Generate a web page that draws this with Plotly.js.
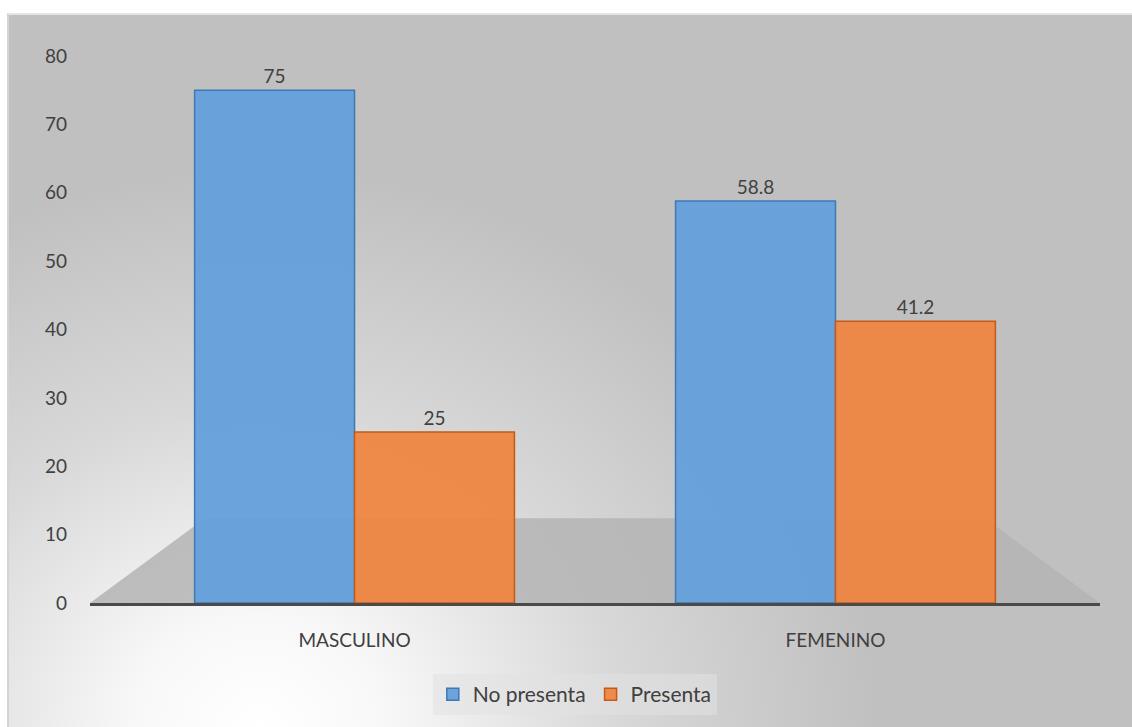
<!DOCTYPE html>
<html>
<head>
<meta charset="utf-8">
<script src="https://cdn.plot.ly/plotly-3.0.1.min.js"></script>
<style>
  html, body { margin: 0; padding: 0; background: #ffffff; width: 1132px; height: 727px; overflow: hidden; }
  #bg {
    position: absolute; left: 7px; top: 13px; width: 1125px; height: 714px;
    border-left: 2px solid #d4d4d4; border-top: 2px solid #e4e4e4; box-sizing: border-box;
    background: radial-gradient(ellipse 620px 560px at 250px 714px, #ffffff 0%, #f8f8f8 20%, #d8d8d8 58%, #c0c0c0 100%);
  }
  #chart { position: absolute; left: 0; top: 0; width: 1132px; height: 727px; }
</style>
</head>
<body>
<div id="bg"></div>
<div id="chart"></div>
<script>
const categories = ["MASCULINO", "FEMENINO"];
const seriesNames = ["No presenta", "Presenta"];
const noPresenta = [75, 58.8];
const presenta = [25, 41.2];
const yTicks = [0, 10, 20, 30, 40, 50, 60, 70, 80];

const labelFont = { family: "Lato, 'Open Sans', sans-serif", size: 19, color: "#404040" };

const traces = [
  {
    type: "bar", name: seriesNames[0], x: categories, y: noPresenta,
    text: noPresenta.map(String), textposition: "outside", cliponaxis: false,
    textfont: labelFont,
    marker: { color: "rgba(100,160,220,0.95)", line: { color: "#3f78b5", width: 1.5 } }
  },
  {
    type: "bar", name: seriesNames[1], x: categories, y: presenta,
    text: presenta.map(String), textposition: "outside", cliponaxis: false,
    textfont: labelFont,
    marker: { color: "rgba(238,134,66,0.95)", line: { color: "#c55a18", width: 1.5 } }
  }
];

const layout = {
  width: 1132, height: 727,
  paper_bgcolor: "rgba(0,0,0,0)", plot_bgcolor: "rgba(0,0,0,0)",
  margin: { l: 90, r: 32, t: 56, b: 124 },
  barmode: "group", bargap: 0.335, bargroupgap: 0,
  font: labelFont,
  showlegend: true,
  legend: {
    orientation: "h", x: 0.48, xanchor: "center", y: -0.13, yanchor: "top",
    bgcolor: "rgba(225,225,225,0.55)", font: { family: "Lato, 'Open Sans', sans-serif", size: 21, color: "#404040" },
    itemwidth: 30, borderwidth: 0
  },
  xaxis: {
    type: "category", range: [-0.55, 1.55], showgrid: false, zeroline: false,
    showline: true, linecolor: "#4a4a4a", linewidth: 3,
    ticks: "", ticklabelstandoff: 18, tickfont: labelFont, fixedrange: true
  },
  yaxis: {
    range: [0, 80], tickvals: yTicks, ticktext: yTicks.map(String),
    showgrid: false, zeroline: false, showline: false, ticks: "",
    ticklabelstandoff: 22, tickfont: labelFont, fixedrange: true
  },
  shapes: [
    {
      type: "path", xref: "paper", yref: "paper", layer: "below",
      path: "M 0,0 L 1,0 L 0.886,0.155 L 0.114,0.155 Z",
      fillcolor: "rgba(180,180,180,0.85)", line: { width: 0 }
    }
  ]
};

Plotly.newPlot("chart", traces, layout, { displayModeBar: false, staticPlot: true });
</script>
</body>
</html>
